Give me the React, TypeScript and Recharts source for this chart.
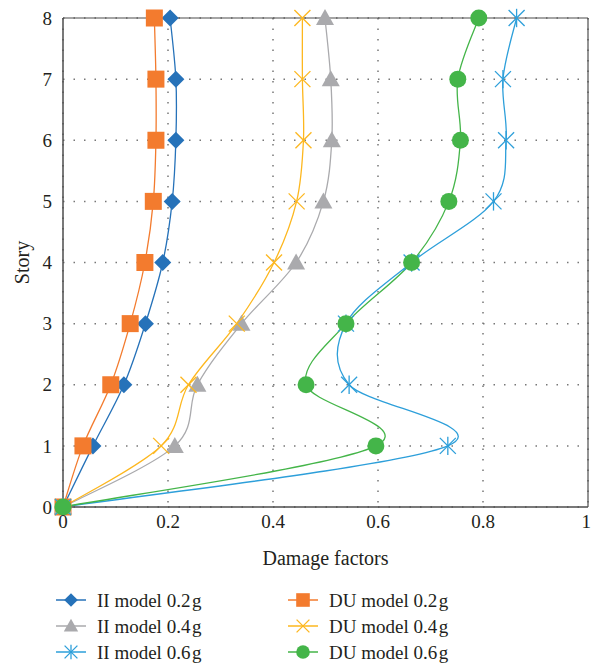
import React from 'react'
import { CartesianGrid, Legend, Line, LineChart, ReferenceLine, XAxis, YAxis } from 'recharts'

const stories = [0, 1, 2, 3, 4, 5, 6, 7, 8]
const ii02 = [0, 0.057, 0.116, 0.157, 0.19, 0.208, 0.215, 0.215, 0.204]
const du02 = [0, 0.038, 0.091, 0.128, 0.156, 0.172, 0.177, 0.177, 0.174]
const ii04 = [0, 0.213, 0.256, 0.34, 0.444, 0.496, 0.512, 0.51, 0.499]
const du04 = [0, 0.187, 0.239, 0.331, 0.402, 0.445, 0.458, 0.456, 0.456]
const ii06 = [0, 0.733, 0.545, 0.539, 0.664, 0.82, 0.844, 0.838, 0.864]
const du06 = [0, 0.596, 0.463, 0.539, 0.664, 0.735, 0.757, 0.752, 0.792]
const xTicks = [0, 0.2, 0.4, 0.6, 0.8, 1]

const data = stories.map((s, i) => ({
  story: s,
  ii02: ii02[i],
  du02: du02[i],
  ii04: ii04[i],
  du04: du04[i],
  ii06: ii06[i],
  du06: du06[i],
}))

type Shape = 'diamond' | 'square' | 'triangle' | 'cross' | 'star' | 'circle'

const series: { key: string; name: string; color: string; shape: Shape }[] = [
  { key: 'ii02', name: 'II model 0.2\u200ag', color: '#2672b9', shape: 'diamond' },
  { key: 'du02', name: 'DU model 0.2\u200ag', color: '#f37b2e', shape: 'square' },
  { key: 'ii04', name: 'II model 0.4\u200ag', color: '#aaaaad', shape: 'triangle' },
  { key: 'du04', name: 'DU model 0.4\u200ag', color: '#fdb71e', shape: 'cross' },
  { key: 'ii06', name: 'II model 0.6\u200ag', color: '#2d9fda', shape: 'star' },
  { key: 'du06', name: 'DU model 0.6\u200ag', color: '#44b549', shape: 'circle' },
]

// excel-like smoothing (catmull-rom bezier)
function smoothCurve(context: any) {
  let pts: number[][] = []
  return {
    areaStart() {},
    areaEnd() {},
    lineStart() {
      pts = []
    },
    point(x: number, y: number) {
      pts.push([+x, +y])
    },
    lineEnd() {
      const n = pts.length
      if (!n) return
      context.moveTo(pts[0][0], pts[0][1])
      if (n === 2) {
        context.lineTo(pts[1][0], pts[1][1])
        return
      }
      for (let i = 0; i < n - 1; i++) {
        const p0 = pts[i - 1] || pts[i]
        const p1 = pts[i]
        const p2 = pts[i + 1]
        const p3 = pts[i + 2] || pts[i + 1]
        context.bezierCurveTo(
          p1[0] + (p2[0] - p0[0]) / 6,
          p1[1] + (p2[1] - p0[1]) / 6,
          p2[0] - (p3[0] - p1[0]) / 6,
          p2[1] - (p3[1] - p1[1]) / 6,
          p2[0],
          p2[1]
        )
      }
    },
  }
}

const Marker = ({ x, y, shape, color, s = 1 }: { x: number; y: number; shape: Shape; color: string; s?: number }) => {
  if (x == null || y == null || isNaN(x) || isNaN(y)) return null
  switch (shape) {
    case 'diamond': {
      const r = 8.5 * s
      return <polygon points={`${x},${y - r} ${x + r},${y} ${x},${y + r} ${x - r},${y}`} fill={color} />
    }
    case 'square': {
      const h = 8.5 * s
      return <rect x={x - h} y={y - h} width={h * 2} height={h * 2} fill={color} />
    }
    case 'triangle': {
      const w = 9 * s
      return <polygon points={`${x},${y - 9 * s} ${x + w},${y + 7 * s} ${x - w},${y + 7 * s}`} fill={color} />
    }
    case 'cross': {
      const h = 8 * s
      return (
        <g stroke={color} strokeWidth={1.3}>
          <line x1={x - h} y1={y - h} x2={x + h} y2={y + h} />
          <line x1={x - h} y1={y + h} x2={x + h} y2={y - h} />
        </g>
      )
    }
    case 'star': {
      const h = 8 * s
      return (
        <g stroke={color} strokeWidth={1.3}>
          <line x1={x - h} y1={y - h} x2={x + h} y2={y + h} />
          <line x1={x - h} y1={y + h} x2={x + h} y2={y - h} />
          <line x1={x} y1={y - h * 1.15} x2={x} y2={y + h * 1.15} />
        </g>
      )
    }
    default:
      return <circle cx={x} cy={y} r={8.5 * s} fill={color} />
  }
}

const renderLegend = () => (
  <svg width={591} height={86} style={{ display: 'block' }}>
    {series.map((sr, i) => {
      const col = i % 2
      const row = Math.floor(i / 2)
      const x0 = col === 0 ? 56 : 288
      const y = 20 + row * 26
      return (
        <g key={sr.key}>
          <line x1={x0} y1={y} x2={x0 + 30} y2={y} stroke={sr.color} strokeWidth={1.5} />
          <Marker x={x0 + 15} y={y} shape={sr.shape} color={sr.color} s={0.8} />
          <text x={x0 + 41} y={y} dominantBaseline="central" fontSize={19} fill="#231f20" fontFamily="'Liberation Serif', serif">
            {sr.name}
          </text>
        </g>
      )
    })}
  </svg>
)

const fmt = (v: number) => (v === 0 || v === 1 ? String(v) : v.toFixed(1))

export default function App() {
  return (
    <div style={{ position: 'absolute', left: 0, top: 0, width: 591, height: 666, background: '#fff' }}>
      <LineChart
        width={591}
        height={666}
        data={data}
        layout="vertical"
        margin={{ top: 18, right: 3, left: 0, bottom: 15 }}
        style={{ fontFamily: "'Liberation Serif', serif" }}
      >
        <CartesianGrid stroke="#777" strokeDasharray="1.5 9" strokeWidth={1.5} />
        <XAxis
          type="number"
          domain={[0, 1]}
          ticks={xTicks}
          tickFormatter={fmt}
          tickLine={false}
          axisLine={{ stroke: '#4d4d4d', strokeWidth: 1.5 }}
          tick={{ fill: '#231f20', fontSize: 19 }}
          height={58}
          label={{ value: 'Damage factors', position: 'insideBottom', offset: 0, fontSize: 20, fill: '#231f20' }}
        />
        <YAxis
          type="number"
          dataKey="story"
          domain={[0, 8]}
          ticks={stories}
          reversed
          tickLine={false}
          tickMargin={5}
          axisLine={{ stroke: '#4d4d4d', strokeWidth: 1.5 }}
          tick={{ fill: '#231f20', fontSize: 19 }}
          width={63}
          label={{
            content: ({ viewBox }: any) => {
              const cx = viewBox.x + 22
              const cy = viewBox.y + viewBox.height / 2
              return (
                <text x={cx} y={cy} transform={`rotate(-90 ${cx} ${cy})`} textAnchor="middle" dominantBaseline="central" fontSize={20} fill="#231f20">
                  Story
                </text>
              )
            },
          }}
        />
        <ReferenceLine y={8} stroke="#4d4d4d" strokeWidth={1.2} />
        <ReferenceLine x={1} stroke="#4d4d4d" strokeWidth={1.2} />
        {series.map((sr) => (
          <Line
            key={sr.key}
            dataKey={sr.key}
            name={sr.name}
            type={smoothCurve as any}
            stroke={sr.color}
            strokeWidth={1.3}
            isAnimationActive={false}
            dot={(p: any) => (
              <g key={`${sr.key}-${p.index}`}>
                <Marker x={p.cx} y={p.cy} shape={sr.shape} color={sr.color} />
              </g>
            )}
            activeDot={false}
          />
        ))}
        <Legend content={renderLegend} wrapperStyle={{ top: 580, left: 0, width: 591, height: 86 }} />
      </LineChart>
    </div>
  )
}
